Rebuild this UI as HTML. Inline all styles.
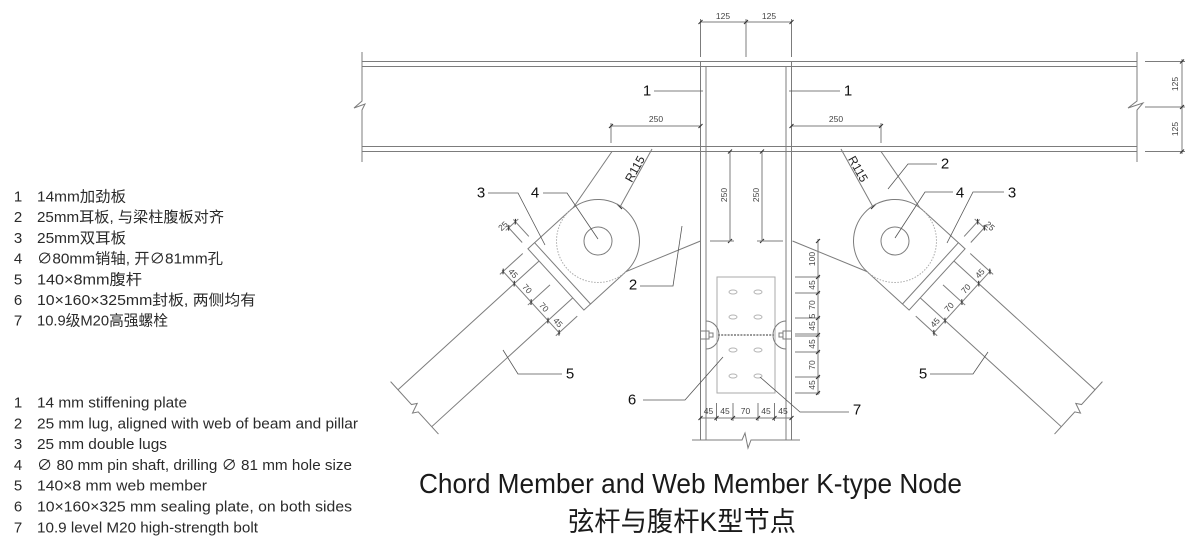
<!DOCTYPE html>
<html><head><meta charset="utf-8"><style>
html,body{margin:0;padding:0;background:#fff;}
svg{display:block;}
.g line,.g path,.g rect,.g circle{fill:none;stroke:#7c7c7c;stroke-width:1;}
.t{stroke:#333 !important;stroke-width:1.1 !important;}
.ld{fill:none;stroke:#555;stroke-width:0.8;}
.d{font-family:"Liberation Sans",sans-serif;font-size:8.5px;fill:#444;text-anchor:middle;dominant-baseline:central;}
.lb{font-family:"Liberation Sans",sans-serif;font-size:15px;fill:#111;text-anchor:middle;dominant-baseline:central;}
.lg{font-family:"Liberation Sans","Noto Sans CJK SC",sans-serif;font-size:15px;fill:#2a2a2a;}
</style></head><body>
<svg width="1200" height="552" viewBox="0 0 1200 552" xmlns="http://www.w3.org/2000/svg">
<g class="g">
<!-- beam -->
<line x1="362" y1="61.5" x2="1137" y2="61.5"/>
<line x1="362" y1="66.5" x2="1137" y2="66.5"/>
<line x1="362" y1="146.5" x2="1137" y2="146.5"/>
<line x1="362" y1="151.5" x2="1137" y2="151.5"/>
<path d="M362,52 V101 L354,108 L365,104 L362,110 V162"/>
<path d="M1137,52 V101 L1128,108 L1143,103 L1137,110 V162"/>
<!-- right beam dims -->
<line x1="1145" y1="61.5" x2="1185" y2="61.5"/>
<line x1="1145" y1="107" x2="1185" y2="107"/>
<line x1="1145" y1="151.5" x2="1185" y2="151.5"/>
<line x1="1182" y1="59" x2="1182" y2="154"/>
<line class="t" x1="1180" y1="63.5" x2="1184" y2="59.5"/>
<line class="t" x1="1180" y1="109" x2="1184" y2="105"/>
<line class="t" x1="1180" y1="153.5" x2="1184" y2="149.5"/>
<!-- column -->
<line x1="700.5" y1="61.5" x2="700.5" y2="440"/>
<line x1="706" y1="66.5" x2="706" y2="440"/>
<line x1="786" y1="66.5" x2="786" y2="440"/>
<line x1="791.5" y1="61.5" x2="791.5" y2="440"/>
<path d="M692,440 H742 L745,433 L748,448 L751,440 H800"/>
<!-- top dims -->
<line x1="700.5" y1="22" x2="791.5" y2="22"/>
<line x1="700.5" y1="19" x2="700.5" y2="57"/>
<line x1="746" y1="19" x2="746" y2="57"/>
<line x1="791.5" y1="19" x2="791.5" y2="57"/>
<line class="t" x1="698.5" y1="24" x2="702.5" y2="20"/>
<line class="t" x1="744" y1="24" x2="748" y2="20"/>
<line class="t" x1="789.5" y1="24" x2="793.5" y2="20"/>
<!-- 250 horizontal dims -->
<line x1="611" y1="126" x2="700.5" y2="126"/>
<line x1="611" y1="123" x2="611" y2="143"/>
<line class="t" x1="609" y1="128" x2="613" y2="124"/>
<line class="t" x1="698.5" y1="128" x2="702.5" y2="124"/>
<line x1="791.5" y1="126" x2="881" y2="126"/>
<line x1="881" y1="123" x2="881" y2="143"/>
<line class="t" x1="789.5" y1="128" x2="793.5" y2="124"/>
<line class="t" x1="879" y1="128" x2="883" y2="124"/>
<!-- column vertical 250 dims -->
<line x1="730" y1="151.5" x2="730" y2="241"/>
<line x1="762" y1="151.5" x2="762" y2="241"/>
<line class="t" x1="728" y1="153.5" x2="732" y2="149.5"/>
<line class="t" x1="760" y1="153.5" x2="764" y2="149.5"/>
<line class="t" x1="728" y1="243" x2="732" y2="239"/>
<line class="t" x1="760" y1="243" x2="764" y2="239"/>
<line x1="710" y1="241" x2="734" y2="241"/>
<line x1="757" y1="241" x2="783" y2="241"/>
<!-- sealing plate -->
<rect x="717" y="277" width="58" height="116" style="stroke:#aaa"/>
<g style="stroke:#b5b5b5">
<ellipse cx="733" cy="292" rx="4" ry="2" fill="none" stroke="#b5b5b5"/>
<ellipse cx="758" cy="292" rx="4" ry="2" fill="none" stroke="#b5b5b5"/>
<ellipse cx="733" cy="317" rx="4" ry="2" fill="none" stroke="#b5b5b5"/>
<ellipse cx="758" cy="317" rx="4" ry="2" fill="none" stroke="#b5b5b5"/>
<ellipse cx="733" cy="350" rx="4" ry="2" fill="none" stroke="#b5b5b5"/>
<ellipse cx="758" cy="350" rx="4" ry="2" fill="none" stroke="#b5b5b5"/>
<ellipse cx="733" cy="376" rx="4" ry="2" fill="none" stroke="#b5b5b5"/>
<ellipse cx="758" cy="376" rx="4" ry="2" fill="none" stroke="#b5b5b5"/>
</g>
<line x1="718" y1="335" x2="774" y2="335" style="stroke:#999;stroke-width:2;stroke-dasharray:2 1.2"/>
<path d="M706,321 A13,14 0 0 1 706,349"/>
<path d="M786,321 A13,14 0 0 0 786,349"/>
<path d="M700.5,331 H709 V339 H700.5 M709,333 H713 V337 H709"/>
<path d="M791.5,331 H783 V339 H791.5 M783,333 H779 V337 H783"/>
<!-- right vertical dims -->
<line x1="818" y1="239" x2="818" y2="395"/>
<line x1="795" y1="277" x2="820" y2="277"/>
<line x1="795" y1="293" x2="820" y2="293"/>
<line x1="795" y1="318" x2="820" y2="318"/>
<line x1="795" y1="334" x2="820" y2="334"/>
<line x1="795" y1="336" x2="820" y2="336"/>
<line x1="795" y1="352" x2="820" y2="352"/>
<line x1="795" y1="377" x2="820" y2="377"/>
<line x1="795" y1="393" x2="820" y2="393"/>
<line class="t" x1="816" y1="243" x2="820" y2="239"/>
<line class="t" x1="816" y1="279" x2="820" y2="275"/>
<line class="t" x1="816" y1="295" x2="820" y2="291"/>
<line class="t" x1="816" y1="320" x2="820" y2="316"/>
<line class="t" x1="816" y1="337" x2="820" y2="333"/>
<line class="t" x1="816" y1="354" x2="820" y2="350"/>
<line class="t" x1="816" y1="379" x2="820" y2="375"/>
<line class="t" x1="816" y1="395" x2="820" y2="391"/>
<!-- bottom dims -->
<line x1="700.5" y1="418" x2="791.5" y2="418"/>
<line x1="716.5" y1="403" x2="716.5" y2="421"/>
<line x1="733" y1="403" x2="733" y2="421"/>
<line x1="758" y1="403" x2="758" y2="421"/>
<line x1="774.5" y1="403" x2="774.5" y2="421"/>
<line class="t" x1="698.5" y1="420" x2="702.5" y2="416"/>
<line class="t" x1="714.5" y1="420" x2="718.5" y2="416"/>
<line class="t" x1="731" y1="420" x2="735" y2="416"/>
<line class="t" x1="756" y1="420" x2="760" y2="416"/>
<line class="t" x1="772.5" y1="420" x2="776.5" y2="416"/>
<line class="t" x1="789.5" y1="420" x2="793.5" y2="416"/>

<!-- LEFT member -->
<g id="LM">
<line x1="612" y1="151.5" x2="573" y2="208"/>
<line x1="625" y1="272" x2="700.5" y2="241"/>
<line x1="652" y1="149" x2="620" y2="207"/>
<line class="t" x1="617" y1="204" x2="622" y2="209"/>
<g transform="translate(598,241) rotate(-42.4)">
<line x1="-248" y1="-25" x2="-57" y2="-25"/>
<line x1="-248" y1="25" x2="-57" y2="25"/>
<rect x="-57" y="-41.5" width="9" height="83"/>
<line x1="-48" y1="-41.5" x2="0" y2="-41.5"/>
<line x1="-48" y1="41.5" x2="0" y2="41.5"/>
<path d="M0,-41.5 A41.5,41.5 0 0 1 0,41.5"/>
<path d="M0,41.5 A41.5,41.5 0 0 1 0,-41.5" style="stroke:#aaa;stroke-dasharray:1.5 1.5"/>
<circle cx="0" cy="0" r="14"/>
<path d="M-248,-36 L-248,-5 L-243,-2 L-253,2 L-248,5 L-248,35"/>
<line x1="-90.6" y1="-43" x2="-90.6" y2="43"/>
<line x1="-64" y1="-41.5" x2="-95" y2="-41.5"/>
<line x1="-65" y1="0" x2="-95" y2="0"/>
<line x1="-66" y1="41.5" x2="-95" y2="41.5"/>
<line class="t" x1="-92.6" y1="-39.5" x2="-88.6" y2="-43.5"/>
<line class="t" x1="-92.6" y1="-23" x2="-88.6" y2="-27"/>
<line class="t" x1="-92.6" y1="2" x2="-88.6" y2="-2"/>
<line class="t" x1="-92.6" y1="27" x2="-88.6" y2="23"/>
<line class="t" x1="-92.6" y1="43.5" x2="-88.6" y2="39.5"/>
<line x1="-57" y1="-50" x2="-57" y2="-73"/>
<line x1="-48" y1="-50" x2="-48" y2="-73"/>
<line x1="-61" y1="-70" x2="-44" y2="-70"/>
<line class="t" x1="-59" y1="-68" x2="-55" y2="-72"/>
<line class="t" x1="-50" y1="-68" x2="-46" y2="-72"/>
</g>
</g>
<!-- RIGHT member (mirror) -->
<g transform="matrix(-1,0,0,1,1493,0)">
<line x1="612" y1="151.5" x2="573" y2="208"/>
<line x1="625" y1="272" x2="700.5" y2="241"/>
<line x1="652" y1="149" x2="620" y2="207"/>
<line class="t" x1="617" y1="204" x2="622" y2="209"/>
<g transform="translate(598,241) rotate(-42.4)">
<line x1="-248" y1="-25" x2="-57" y2="-25"/>
<line x1="-248" y1="25" x2="-57" y2="25"/>
<rect x="-57" y="-41.5" width="9" height="83"/>
<line x1="-48" y1="-41.5" x2="0" y2="-41.5"/>
<line x1="-48" y1="41.5" x2="0" y2="41.5"/>
<path d="M0,-41.5 A41.5,41.5 0 0 1 0,41.5"/>
<path d="M0,41.5 A41.5,41.5 0 0 1 0,-41.5" style="stroke:#aaa;stroke-dasharray:1.5 1.5"/>
<circle cx="0" cy="0" r="14"/>
<path d="M-248,-36 L-248,-5 L-243,-2 L-253,2 L-248,5 L-248,35"/>
<line x1="-90.6" y1="-43" x2="-90.6" y2="43"/>
<line x1="-64" y1="-41.5" x2="-95" y2="-41.5"/>
<line x1="-65" y1="0" x2="-95" y2="0"/>
<line x1="-66" y1="41.5" x2="-95" y2="41.5"/>
<line class="t" x1="-92.6" y1="-39.5" x2="-88.6" y2="-43.5"/>
<line class="t" x1="-92.6" y1="-23" x2="-88.6" y2="-27"/>
<line class="t" x1="-92.6" y1="2" x2="-88.6" y2="-2"/>
<line class="t" x1="-92.6" y1="27" x2="-88.6" y2="23"/>
<line class="t" x1="-92.6" y1="43.5" x2="-88.6" y2="39.5"/>
<line x1="-57" y1="-50" x2="-57" y2="-73"/>
<line x1="-48" y1="-50" x2="-48" y2="-73"/>
<line x1="-61" y1="-70" x2="-44" y2="-70"/>
<line class="t" x1="-59" y1="-68" x2="-55" y2="-72"/>
<line class="t" x1="-50" y1="-68" x2="-46" y2="-72"/>
</g>
</g>
</g>

<!-- leaders -->
<polyline class="ld" points="654,91 703,91"/>
<polyline class="ld" points="789,91 840,91"/>
<polyline class="ld" points="488,193 518,193 545,245"/>
<polyline class="ld" points="543,193 567,193 598,239"/>
<polyline class="ld" points="640,286 673,286 682,226"/>
<polyline class="ld" points="562,374 518,374 503,350"/>
<polyline class="ld" points="643,400 685,400 723,357"/>
<polyline class="ld" points="849,412 800,412 760,377"/>
<polyline class="ld" points="937,164 908,164 888,189"/>
<polyline class="ld" points="953,192 925,192 895,238"/>
<polyline class="ld" points="1004,192 973,192 947,243"/>
<polyline class="ld" points="930,374 973,374 988,352"/>

<!-- labels -->
<text class="lb" x="647" y="91">1</text>
<text class="lb" x="848" y="91">1</text>
<text class="lb" x="481" y="193">3</text>
<text class="lb" x="535" y="193">4</text>
<text class="lb" x="633" y="285">2</text>
<text class="lb" x="570" y="374">5</text>
<text class="lb" x="632" y="400">6</text>
<text class="lb" x="857" y="410">7</text>
<text class="lb" x="945" y="164">2</text>
<text class="lb" x="960" y="193">4</text>
<text class="lb" x="1012" y="193">3</text>
<text class="lb" x="923" y="374">5</text>

<!-- dim texts -->
<text class="d" x="723" y="16">125</text>
<text class="d" x="769" y="16">125</text>
<text class="d" x="656" y="119">250</text>
<text class="d" x="836" y="119">250</text>
<text class="d" transform="translate(1175,84) rotate(-90)">125</text>
<text class="d" transform="translate(1175,129) rotate(-90)">125</text>
<text class="d" transform="translate(724,195) rotate(-90)">250</text>
<text class="d" transform="translate(756,195) rotate(-90)">250</text>
<text class="d" transform="translate(812,259) rotate(-90)">100</text>
<text class="d" transform="translate(812,285) rotate(-90)">45</text>
<text class="d" transform="translate(812,305) rotate(-90)">70</text>
<text class="d" transform="translate(812,326) rotate(-90)">45</text>
<text class="d" transform="translate(812,316) rotate(-90)">5</text>
<text class="d" transform="translate(812,344) rotate(-90)">45</text>
<text class="d" transform="translate(812,365) rotate(-90)">70</text>
<text class="d" transform="translate(812,385) rotate(-90)">45</text>
<text class="d" x="708.5" y="411">45</text>
<text class="d" x="725" y="411">45</text>
<text class="d" x="745.5" y="411">70</text>
<text class="d" x="766" y="411">45</text>
<text class="d" x="783" y="411">45</text>
<text class="d" transform="translate(513.2,273.3) rotate(47.6)">45</text>
<text class="d" transform="translate(527.2,288.7) rotate(47.6)">70</text>
<text class="d" transform="translate(544,307.1) rotate(47.6)">70</text>
<text class="d" transform="translate(558,322.5) rotate(47.6)">45</text>
<text class="d" transform="translate(979.8,273.3) rotate(-47.6)">45</text>
<text class="d" transform="translate(965.8,288.7) rotate(-47.6)">70</text>
<text class="d" transform="translate(949,307.1) rotate(-47.6)">70</text>
<text class="d" transform="translate(935,322.5) rotate(-47.6)">45</text>
<text class="d" transform="translate(503,226) rotate(-42.4)">25</text>
<text class="d" transform="translate(990,226) rotate(42.4)">25</text>
<text class="d" style="font-size:12px;fill:#222" transform="translate(635,169) rotate(-60.7)">R115</text>
<text class="d" style="font-size:12px;fill:#222" transform="translate(858,169) rotate(60.7)">R115</text>

<!-- Chinese legend -->
<g class="lg">
<text x="18" y="201.5" text-anchor="middle">1</text>
<text x="18" y="222.2" text-anchor="middle">2</text>
<text x="18" y="242.9" text-anchor="middle">3</text>
<text x="18" y="263.6" text-anchor="middle">4</text>
<text x="18" y="284.3" text-anchor="middle">5</text>
<text x="18" y="305" text-anchor="middle">6</text>
<text x="18" y="325.7" text-anchor="middle">7</text>
<text x="37" y="201.5" textLength="89" lengthAdjust="spacingAndGlyphs">14mm加劲板</text>
<text x="37" y="222.2" textLength="187" lengthAdjust="spacingAndGlyphs">25mm耳板, 与梁柱腹板对齐</text>
<text x="37" y="242.9" textLength="89" lengthAdjust="spacingAndGlyphs">25mm双耳板</text>
<text x="37" y="263.6" textLength="186" lengthAdjust="spacingAndGlyphs">∅80mm销轴, 开∅81mm孔</text>
<text x="37" y="284.3" textLength="105" lengthAdjust="spacingAndGlyphs">140×8mm腹杆</text>
<text x="37" y="305" textLength="219" lengthAdjust="spacingAndGlyphs">10×160×325mm封板, 两侧均有</text>
<text x="37" y="325.7" textLength="131" lengthAdjust="spacingAndGlyphs">10.9级M20高强螺栓</text>
</g>
<!-- English legend -->
<g class="lg">
<text x="18" y="407.5" text-anchor="middle">1</text>
<text x="18" y="428.3" text-anchor="middle">2</text>
<text x="18" y="449.1" text-anchor="middle">3</text>
<text x="18" y="469.9" text-anchor="middle">4</text>
<text x="18" y="490.7" text-anchor="middle">5</text>
<text x="18" y="511.5" text-anchor="middle">6</text>
<text x="18" y="532.3" text-anchor="middle">7</text>
<text x="37" y="407.5" textLength="150" lengthAdjust="spacingAndGlyphs">14 mm stiffening plate</text>
<text x="37" y="428.3" textLength="321" lengthAdjust="spacingAndGlyphs">25 mm lug, aligned with web of beam and pillar</text>
<text x="37" y="449.1" textLength="130" lengthAdjust="spacingAndGlyphs">25 mm double lugs</text>
<text x="37" y="469.9" textLength="315" lengthAdjust="spacingAndGlyphs">∅ 80 mm pin shaft, drilling ∅ 81 mm hole size</text>
<text x="37" y="490.7" textLength="170" lengthAdjust="spacingAndGlyphs">140×8 mm web member</text>
<text x="37" y="511.5" textLength="315" lengthAdjust="spacingAndGlyphs">10×160×325 mm sealing plate, on both sides</text>
<text x="37" y="532.3" textLength="221" lengthAdjust="spacingAndGlyphs">10.9 level M20 high-strength bolt</text>
</g>

<!-- titles -->
<text x="419" y="493" textLength="543" lengthAdjust="spacingAndGlyphs" style="font-family:'Liberation Sans',sans-serif;font-size:28px;fill:#1a1a1a">Chord Member and Web Member K-type Node</text>
<text x="568" y="531" textLength="228" lengthAdjust="spacingAndGlyphs" style="font-family:'Liberation Sans','Noto Sans CJK SC',sans-serif;font-size:27px;fill:#1a1a1a">弦杆与腹杆K型节点</text>
</svg>
</body></html>
